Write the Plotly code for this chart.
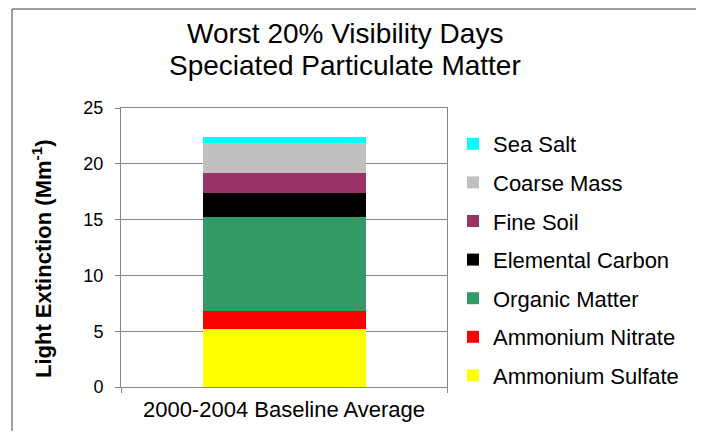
import plotly.graph_objects as go

categories = ["2000-2004 Baseline Average"]
species = ["Ammonium Sulfate", "Ammonium Nitrate", "Organic Matter",
           "Elemental Carbon", "Fine Soil", "Coarse Mass", "Sea Salt"]
values = [5.17, 1.64, 8.45, 2.09, 1.83, 2.72, 0.5]
colors = ["#FFFF00", "#FF0000", "#339966", "#000000", "#993366", "#C0C0C0", "#00FFFF"]
y_ticks = [0, 5, 10, 15, 20, 25]
title_lines = ["Worst 20% Visibility Days", "Speciated Particulate Matter"]
y_title = "<b>Light Extinction (Mm<sup>-1</sup>)</b>"

fig = go.Figure()
n = len(species)
for i, (name, v, c) in enumerate(zip(species, values, colors)):
    fig.add_trace(go.Bar(x=categories, y=[v], name=name,
                         marker=dict(color=c, line=dict(width=0)),
                         legendgroup=name, legendrank=n - i))

OFF = 8  # page body margin
W, H = 704 - OFF, 439 - 2 * OFF
L, R, T, B = 121 - OFF, 447 - OFF, 108 - OFF, 387 - OFF
PW, PH = R - L, B - T
FONT = "Liberation Sans, Arial, sans-serif"

def px(xp):
    return (xp - OFF - L) / PW

def py(yp):
    return (B - (yp - OFF)) / PH

fig.update_layout(
    width=W, height=H,
    margin=dict(l=L, r=W - R, t=T, b=H - B, autoexpand=False),
    barmode="stack", bargap=0.5,
    paper_bgcolor="white", plot_bgcolor="white",
    font=dict(family=FONT, color="#000000"),
    showlegend=True,
    legend=dict(traceorder="grouped", tracegroupgap=7, maxheight=400,
                x=px(453), xanchor="left", y=py(123), yanchor="top",
                font=dict(size=22), bgcolor="rgba(0,0,0,0)", itemclick=False),
    xaxis=dict(type="category", tickson="boundaries", ticks="outside", ticklen=5,
               tickcolor="#868686", showline=True, linecolor="#868686", mirror=True,
               showgrid=False, tickfont=dict(size=22), ticklabelstandoff=3),
    yaxis=dict(range=[0, 25], tickvals=y_ticks, ticks="outside", ticklen=5,
               tickcolor="#868686", showline=True, linecolor="#868686", mirror=True,
               showgrid=True, gridcolor="#868686", gridwidth=1, zeroline=False,
               tickfont=dict(size=18), ticklabelstandoff=8),
)

# y-axis title
fig.add_annotation(text=y_title, xref="paper", yref="paper", x=px(42), y=py(259),
                   xanchor="center", yanchor="middle", textangle=-90, showarrow=False,
                   font=dict(size=22, family=FONT, color="#000000"))

# two-line title
for text, yc in zip(title_lines, [34, 66]):
    fig.add_annotation(text=text, xref="paper", yref="paper",
                       x=px(345), y=py(yc),
                       xanchor="center", yanchor="middle", showarrow=False,
                       font=dict(size=28, family=FONT, color="#000000"))

# outer frame
fig.add_shape(type="rect", xref="paper", yref="paper",
              x0=px(12), x1=px(701), y0=py(460), y1=py(9),
              line=dict(color="#404040", width=1), fillcolor="rgba(0,0,0,0)", layer="below")

fig.write_html("out.html")
